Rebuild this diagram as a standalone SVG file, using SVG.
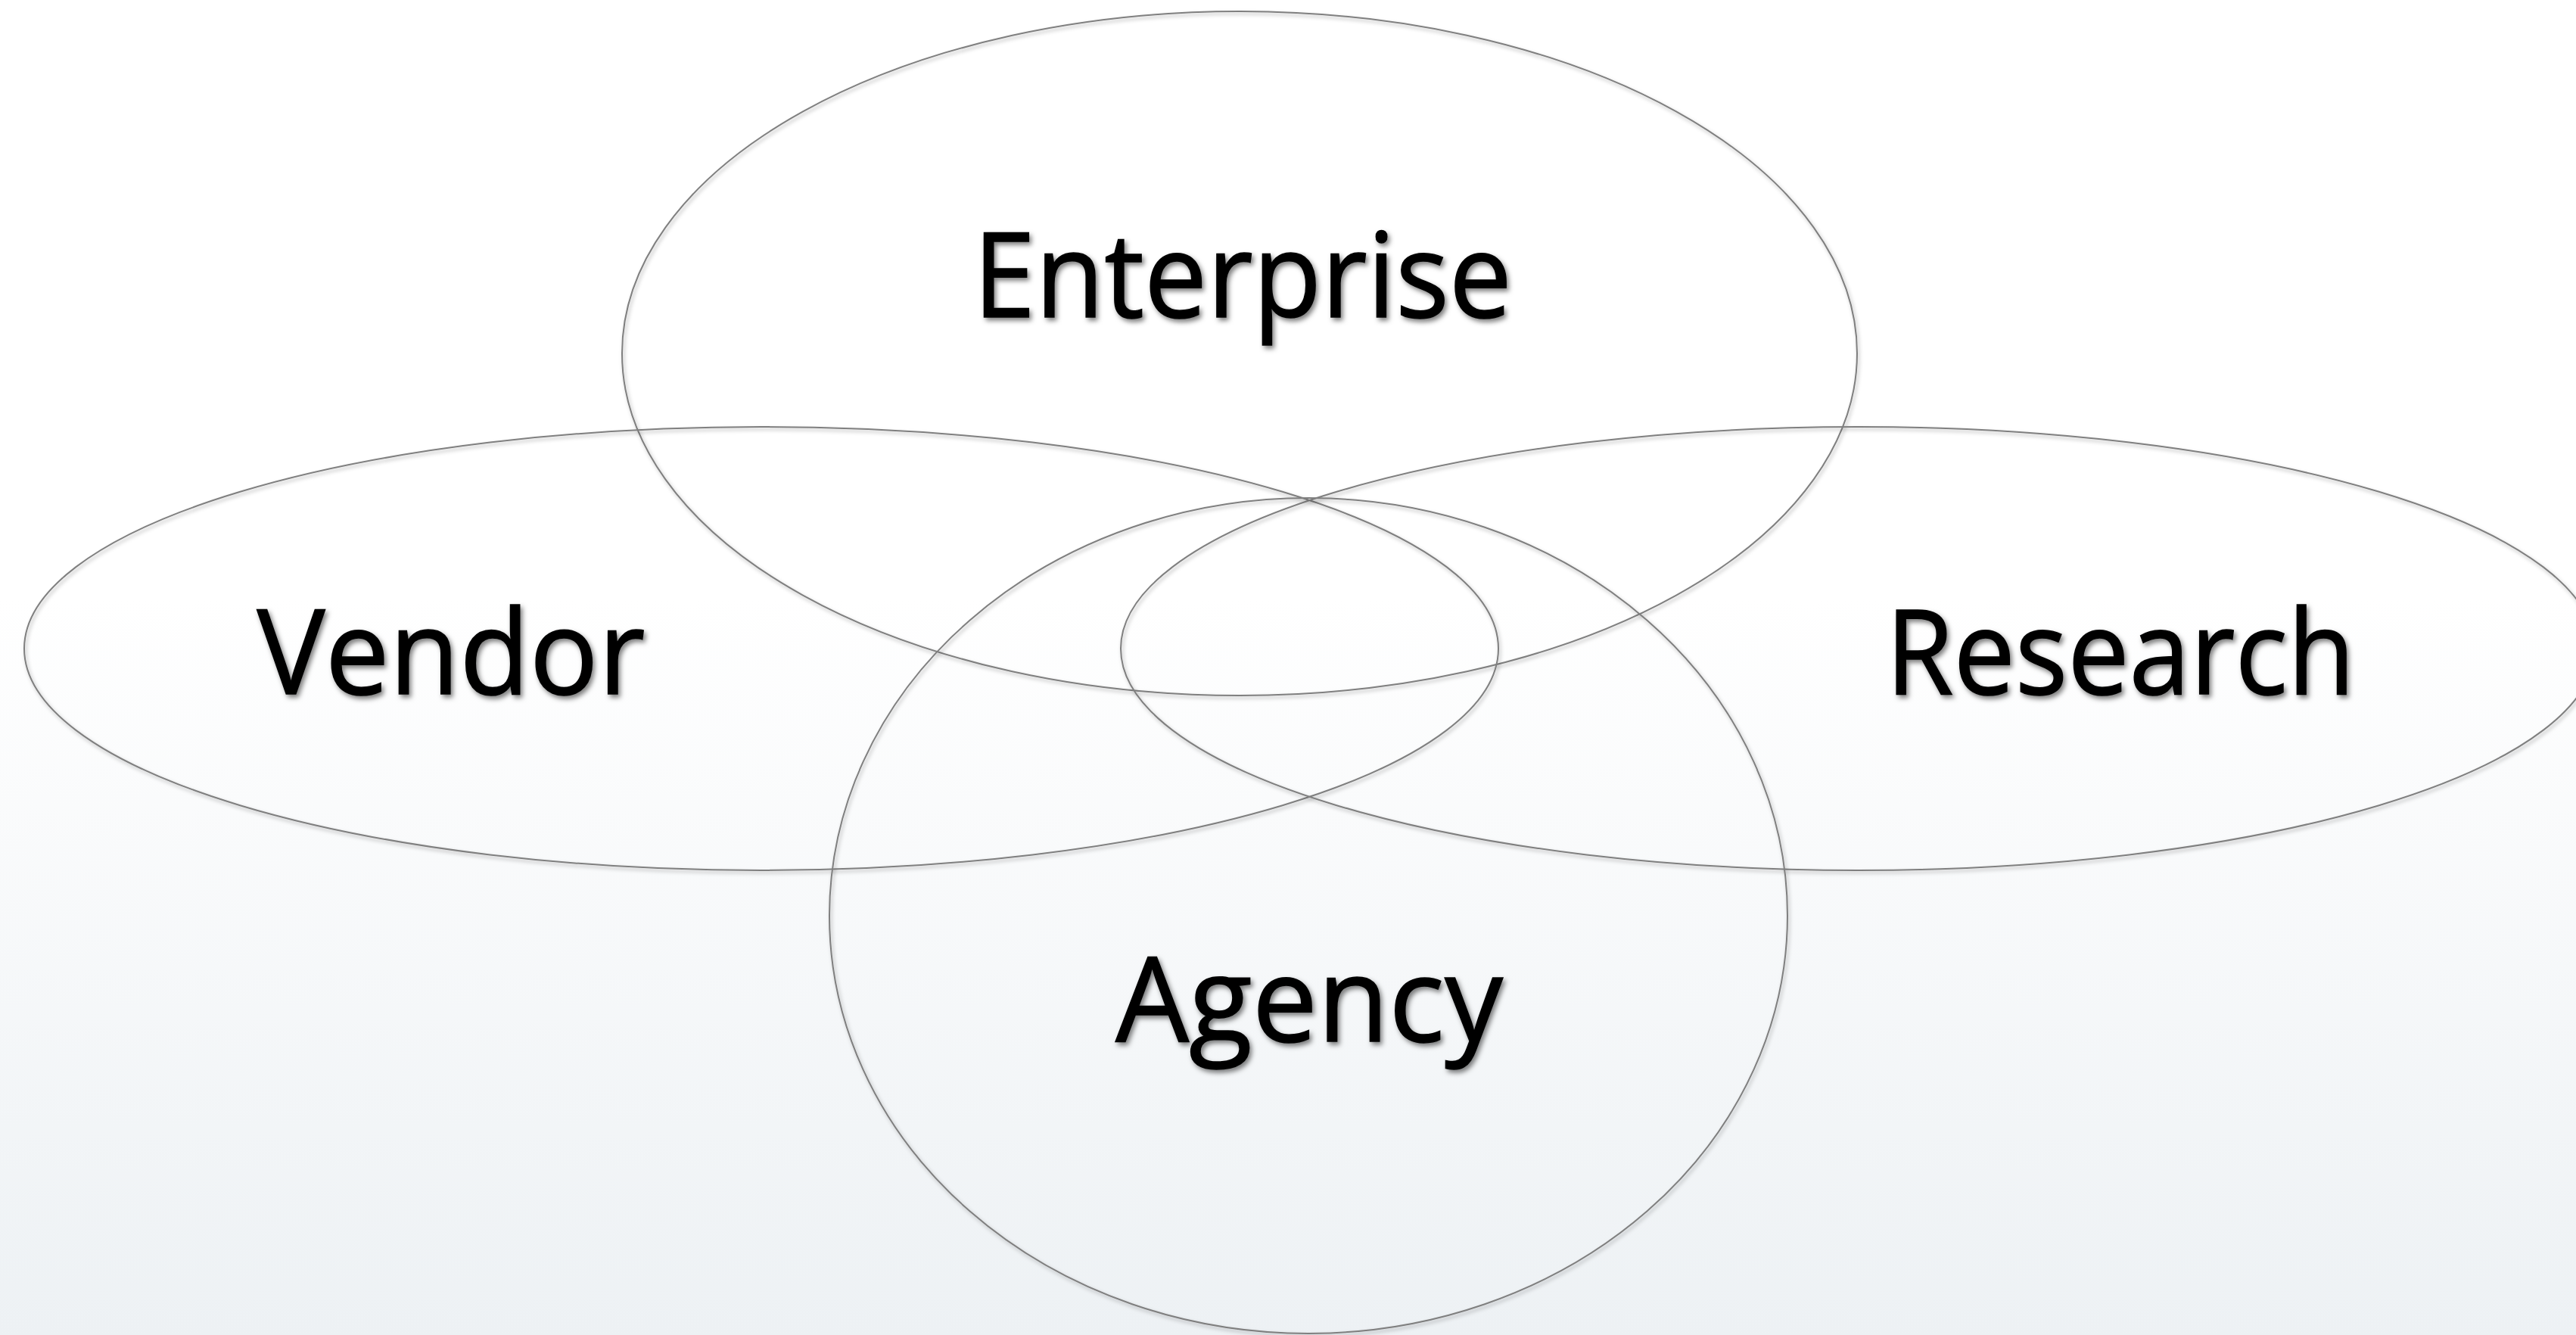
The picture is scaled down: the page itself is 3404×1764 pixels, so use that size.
<svg xmlns="http://www.w3.org/2000/svg" width="3404" height="1764" viewBox="0 0 3404 1764">
  <defs>
    <linearGradient id="bg" x1="0" y1="0" x2="0" y2="1">
      <stop offset="0" stop-color="#ffffff"/>
      <stop offset="0.45" stop-color="#ffffff"/>
      <stop offset="1" stop-color="#edf1f4"/>
    </linearGradient>
    <filter id="lineShadow" x="-5%" y="-5%" width="110%" height="110%">
      <feDropShadow dx="2" dy="3" stdDeviation="2.5" flood-color="#000" flood-opacity="0.3"/>
    </filter>
    <filter id="textShadow" x="-5%" y="-10%" width="110%" height="130%">
      <feDropShadow dx="3" dy="4" stdDeviation="3" flood-color="#000" flood-opacity="0.5"/>
    </filter>
  </defs>
  <style>
    .ring { fill: none; stroke: #7f7f7f; stroke-width: 2; filter: url(#lineShadow); }
    .label { font-family: "Open Sans", "Noto Sans", "Liberation Sans", sans-serif; font-size: 156px; fill: #000; stroke: #000; stroke-width: 1.5; text-anchor: middle; filter: url(#textShadow); }
  </style>

  <rect x="0" y="0" width="3404" height="1764" fill="url(#bg)"/>

  <!-- outlines -->
  <g id="enterprise">
    <ellipse class="ring" cx="1638" cy="467" rx="816" ry="452"/>
  </g>
  <g id="vendor">
    <ellipse class="ring" cx="1006" cy="857" rx="974" ry="293"/>
  </g>
  <g id="research">
    <ellipse class="ring" cx="2455" cy="857" rx="974" ry="293"/>
  </g>
  <g id="agency">
    <ellipse class="ring" cx="1729" cy="1210" rx="633" ry="552"/>
  </g>

  <!-- labels -->
  <g id="labels">
    <text class="label" x="1642" y="419" textLength="712" lengthAdjust="spacingAndGlyphs">Enterprise</text>
    <text class="label" x="596" y="917" textLength="513" lengthAdjust="spacingAndGlyphs">Vendor</text>
    <text class="label" x="2802" y="917" textLength="620" lengthAdjust="spacingAndGlyphs">Research</text>
    <text class="label" x="1730" y="1376" textLength="512" lengthAdjust="spacingAndGlyphs">Agency</text>
  </g>
</svg>
